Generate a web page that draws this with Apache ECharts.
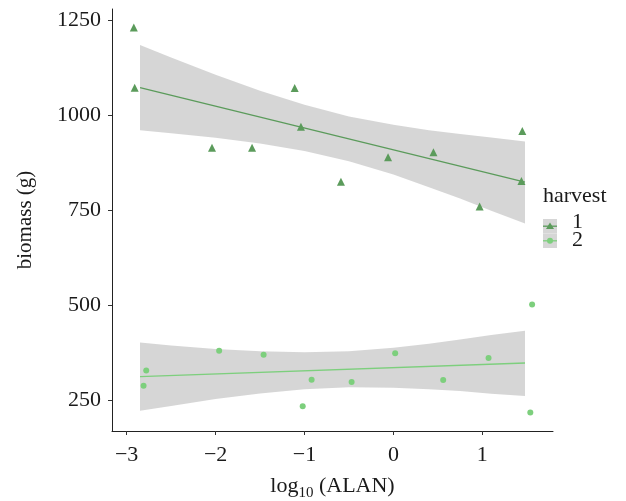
<!DOCTYPE html>
<html>
<head>
<meta charset="utf-8">
<script src="https://cdn.jsdelivr.net/npm/echarts@6/dist/echarts.min.js"></script>
<style>
html,body{margin:0;padding:0;background:#fff;}
#chart{width:626px;height:501px;}
</style>
</head>
<body>
<div id="chart"></div>
<script>
// ---- data ----
var xTicks = [-3, -2, -1, 0, 1];
var yTicks = [250, 500, 750, 1000, 1250];

// harvest 1 observations [log10(ALAN), biomass]
var h1X = [-2.92, -2.91, -2.04, -1.59, -1.11, -1.04, -0.59, -0.06, 0.45, 0.97, 1.45, 1.44];
var h1Y = [1230, 1072, 914, 914, 1071, 969, 824, 889, 902, 759, 958, 826];
// harvest 2 observations
var h2X = [-2.78, -2.81, -1.96, -1.46, -1.02, -0.92, -0.47, 0.02, 0.56, 1.07, 1.56, 1.54];
var h2Y = [327, 287, 379, 369, 233, 303, 297, 373, 302, 360, 501, 217];

// fitted lines (end points)
var fitX = [-2.85, 1.48];
var fit1Y = [1072, 823];
var fit2Y = [311, 347];

// confidence ribbons
var ribX   = [-2.85, -2.5, -2.0, -1.5, -1.0, -0.5, 0, 0.4, 0.75, 1.1, 1.48];
var rib1Lo = [960, 952, 940, 925, 905, 878, 843, 810, 780, 748, 714];
var rib1Hi = [1184, 1151, 1106, 1064, 1027, 996, 974, 960, 950, 941, 930];
var rib2Lo = [221, 234, 252, 267, 278, 283, 282, 278, 273, 266, 260];
var rib2Hi = [401, 393, 384, 378, 375, 378, 387, 398, 409, 421, 432];

var c1 = '#5b9b5b';
var c2 = '#7dcf7d';
var FONT = '"Liberation Serif", "Times New Roman", serif';

function pairs(xs, ys) { return xs.map(function (x, i) { return [x, ys[i]]; }); }

function ribbonSeries(lo, hi) {
  return {
    type: 'custom',
    z: 1,
    silent: true,
    data: ribX.map(function (x, i) { return [x, lo[i], hi[i]]; }),
    encode: { x: 0, y: [1, 2] },
    renderItem: function (params, api) {
      if (params.dataIndex !== 0) return null;
      var pts = [];
      for (var i = 0; i < ribX.length; i++) pts.push(api.coord([ribX[i], hi[i]]));
      for (var j = ribX.length - 1; j >= 0; j--) pts.push(api.coord([ribX[j], lo[j]]));
      return {
        type: 'polygon',
        shape: { points: pts },
        style: { fill: 'rgba(153,153,153,0.4)', stroke: null }
      };
    }
  };
}

var chart = echarts.init(document.getElementById('chart'), null, { renderer: 'canvas' });

chart.setOption({
  animation: false,
  backgroundColor: '#fff',
  grid: { left: 112, right: 73, top: 9, bottom: 70, containLabel: false, outerBoundsMode: 'none' },
  xAxis: {
    type: 'value',
    min: -3.165, max: 1.795,
    splitLine: { show: false },
    axisLine: { show: true, onZero: false, lineStyle: { color: '#222', width: 1 } },
    axisTick: { show: true, length: 4, lineStyle: { color: '#333' }, customValues: xTicks },
    axisLabel: {
      customValues: xTicks,
      margin: 13,
      color: '#1a1a1a',
      fontFamily: FONT, fontSize: 22,
      formatter: function (v) { return String(v).replace('-', '\u2212'); }
    },
    name: 'log{sub|10} (ALAN)',
    nameLocation: 'middle',
    nameGap: 40,
    nameTextStyle: {
      color: '#1a1a1a', fontFamily: FONT, fontSize: 22, lineHeight: 30,
      rich: { sub: { fontFamily: FONT, fontSize: 15, lineHeight: 6, verticalAlign: 'bottom', color: '#1a1a1a' } }
    }
  },
  yAxis: {
    type: 'value',
    min: 168, max: 1279,
    splitLine: { show: false },
    axisLine: { show: true, onZero: false, lineStyle: { color: '#222', width: 1 } },
    axisTick: { show: true, length: 4, lineStyle: { color: '#333' }, customValues: yTicks },
    axisLabel: {
      customValues: yTicks,
      margin: 11,
      color: '#1a1a1a',
      fontFamily: FONT, fontSize: 22,
      formatter: function (v) { return String(v); }
    },
    name: 'biomass (g)',
    nameLocation: 'middle',
    nameRotate: 90,
    nameGap: 76,
    nameTextStyle: { color: '#1a1a1a', fontFamily: FONT, fontSize: 21 }
  },
  series: [
    ribbonSeries(rib1Lo, rib1Hi),
    ribbonSeries(rib2Lo, rib2Hi),
    {
      type: 'line', z: 3, data: pairs(fitX, fit1Y), symbol: 'none',
      lineStyle: { color: c1, width: 1.3 }, silent: true
    },
    {
      type: 'line', z: 3, data: pairs(fitX, fit2Y), symbol: 'none',
      lineStyle: { color: c2, width: 1.3 }, silent: true
    },
    {
      type: 'scatter', z: 4, data: pairs(h1X, h1Y), symbol: 'triangle', symbolSize: 8,
      itemStyle: { color: c1, opacity: 1 }
    },
    {
      type: 'scatter', z: 4, data: pairs(h2X, h2Y), symbol: 'circle', symbolSize: 6,
      itemStyle: { color: c2, opacity: 1 }
    }
  ],
  graphic: [
    { type: 'text', left: 543, top: 185, style: { text: 'harvest', font: '22px ' + FONT, fill: '#1a1a1a' } },
    { type: 'rect', shape: { x: 543, y: 219, width: 14, height: 14.5 }, style: { fill: '#d6d6d6' } },
    { type: 'rect', shape: { x: 543, y: 233.5, width: 14, height: 14.5 }, style: { fill: '#d6d6d6' } },
    { type: 'line', shape: { x1: 543, y1: 226.2, x2: 557, y2: 226.2 }, style: { stroke: c1, lineWidth: 1.3 } },
    { type: 'line', shape: { x1: 543, y1: 240.8, x2: 557, y2: 240.8 }, style: { stroke: c2, lineWidth: 1.3 } },
    { type: 'polygon', shape: { points: [[550, 222.5], [554, 229], [546, 229]] }, style: { fill: c1 } },
    { type: 'circle', shape: { cx: 550, cy: 240.8, r: 3 }, style: { fill: c2 } },
    { type: 'text', left: 572, top: 211, style: { text: '1', font: '22px ' + FONT, fill: '#1a1a1a' } },
    { type: 'text', left: 572, top: 229, style: { text: '2', font: '22px ' + FONT, fill: '#1a1a1a' } }
  ]
});
</script>
</body>
</html>
